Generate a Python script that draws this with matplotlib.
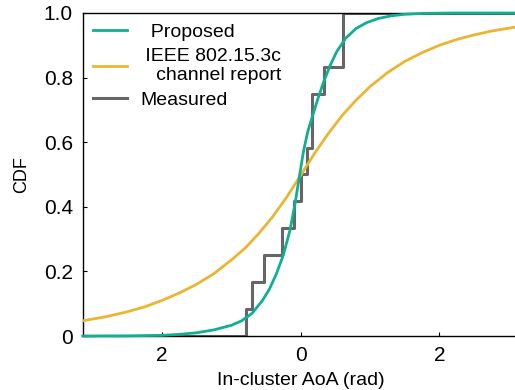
import numpy as np
import matplotlib
matplotlib.use("Agg")
import matplotlib.pyplot as plt

plt.rcParams['font.family'] = ['Liberation Sans', 'DejaVu Sans']

# Proposed model CDF
prop_x = [-3.1416, -2.5, -2.0, -1.75, -1.5, -1.25, -1.0, -0.85, -0.7, -0.55,
          -0.45, -0.35, -0.25, -0.15, -0.08, -0.02, 0.04, 0.10, 0.17, 0.25,
          0.33, 0.42, 0.52, 0.65, 0.8, 0.95, 1.12, 1.3, 1.5, 1.8, 2.2, 3.1416]
prop_y = [0.0, 0.0005, 0.002, 0.005, 0.010, 0.019, 0.033, 0.047, 0.070, 0.110,
          0.145, 0.192, 0.250, 0.330, 0.410, 0.490, 0.570, 0.630, 0.680, 0.735,
          0.785, 0.835, 0.880, 0.922, 0.952, 0.970, 0.983, 0.991, 0.996, 0.999, 1.0, 1.0]

# IEEE 802.15.3c channel report CDF
ieee_x = [-3.1416, -2.8, -2.5, -2.25, -2.0, -1.75, -1.5, -1.25, -1.0, -0.8,
          -0.6, -0.4, -0.2, 0.0, 0.2, 0.4, 0.6, 0.8, 1.0, 1.25, 1.5, 1.75,
          2.0, 2.25, 2.5, 2.75, 3.1416]
ieee_y = [0.047, 0.060, 0.075, 0.090, 0.110, 0.133, 0.160, 0.193, 0.235, 0.272,
          0.318, 0.370, 0.430, 0.497, 0.565, 0.627, 0.683, 0.730, 0.772, 0.815,
          0.850, 0.877, 0.900, 0.918, 0.932, 0.944, 0.958]

# Measured empirical CDF: jump locations and levels
meas_x = [-0.794, -0.707, -0.530, -0.266, -0.092, 0.004, 0.095, 0.163, 0.341, 0.610]
meas_y = [1/12, 2/12, 3/12, 4/12, 5/12, 6/12, 7/12, 9/12, 10/12, 12/12]

xticks = [-2, 0, 2]
xtick_labels = ['2', '0', '2']
yticks = [0, 0.2, 0.4, 0.6, 0.8, 1.0]
ytick_labels = ['0', '0.2', '0.4', '0.6', '0.8', '1.0']

fig = plt.figure(figsize=(5.15, 3.9), dpi=100)
ax = fig.add_axes([82.7/515, 54/390, (518.5-82.7)/515, (336-13)/390])

green = '#0fb092'
orange = '#ebb534'
gray = '#666666'

sx = [-np.pi] + meas_x + [np.pi]
sy = [0.0] + meas_y + [1.0]
ax.step(sx, sy, where='post', color=gray, lw=2.2, label='Measured', zorder=2)
ax.plot(ieee_x, ieee_y, color=orange, lw=2.0,
        label=' IEEE 802.15.3c\n   channel report', zorder=3)
ax.plot(prop_x, prop_y, color=green, lw=2.0, label='  Proposed', zorder=4,
        clip_on=False)

ax.set_xlim(-np.pi, np.pi)
ax.set_ylim(0, 1.0)
ax.set_xticks(xticks)
ax.set_xticklabels(xtick_labels)
ax.set_yticks(yticks)
ax.set_yticklabels(ytick_labels)
ax.tick_params(direction='in', length=3, width=0.8, labelsize=15, pad=7)
for s in ax.spines.values():
    s.set_linewidth(1.0)
    s.set_color('black')

ax.set_xlabel('In-cluster AoA (rad)', fontsize=14, labelpad=5)
ax.set_ylabel('CDF', fontsize=13, labelpad=10)

handles, labels = ax.get_legend_handles_labels()
order = [2, 1, 0]
ax.legend([handles[i] for i in order], [labels[i] for i in order],
          loc='upper left', bbox_to_anchor=(-0.008, 1.01), frameon=False,
          fontsize=14, handlelength=1.75, handletextpad=0.7,
          labelspacing=0.35, borderaxespad=0.3)

fig.savefig('out.png', dpi=100)
